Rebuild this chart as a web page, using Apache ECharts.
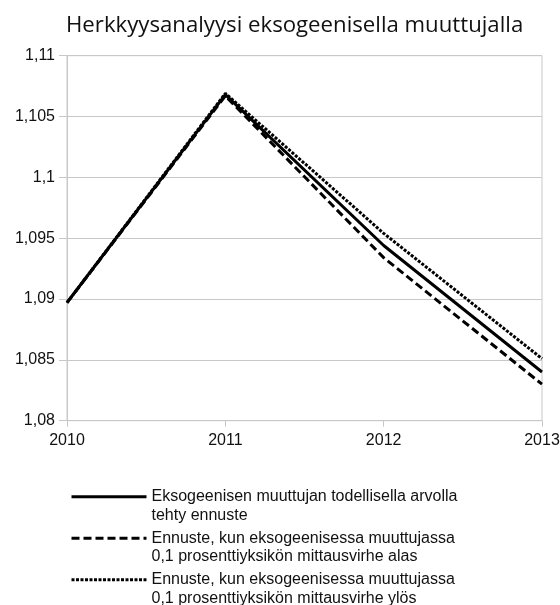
<!DOCTYPE html>
<html><head><meta charset="utf-8">
<script src="https://cdn.jsdelivr.net/npm/echarts@6/dist/echarts.min.js"></script>
<style>html,body{margin:0;padding:0;background:#fff}#c{width:560px;height:605px}</style>
</head><body><div id="c"></div>
<script>
var years = ['2010', '2011', '2012', '2013'];
var seriesNames = [
  'Eksogeenisen muuttujan todellisella arvolla\ntehty ennuste',
  'Ennuste, kun eksogeenisessa muuttujassa\n0,1 prosenttiyksikön mittausvirhe alas',
  'Ennuste, kun eksogeenisessa muuttujassa\n0,1 prosenttiyksikön mittausvirhe ylös'
];
var actual = [1.0897, 1.1068, 1.0944, 1.0840];
var errorDown = [1.0897, 1.1067, 1.0934, 1.0830];
var errorUp = [1.0897, 1.1069, 1.0954, 1.0851];
var titleText = 'Herkkyysanalyysi eksogeenisella muuttujalla';

var lineTypes = ['solid', [8, 4], [3, 1.5]];
var dataSets = [actual, errorDown, errorUp];
var legendTops = [469, 510.5, 552];

var chart = echarts.init(document.getElementById('c'));
var series = dataSets.map(function (d, i) {
  return {
    name: seriesNames[i], type: 'line', data: d, symbol: 'none',
    lineStyle: { color: '#000', width: 3, type: lineTypes[i] },
    itemStyle: { color: '#000' }
  };
});
var legends = seriesNames.map(function (n, i) {
  return {
    data: [n], left: 70, top: legendTops[i], padding: 0, orient: 'vertical',
    itemWidth: 75, itemHeight: 14, selectedMode: false,
    itemStyle: { color: 'transparent', borderWidth: 0, opacity: 0 },
    lineStyle: { width: 3, color: '#000', type: lineTypes[i] },
    formatter: function (name) { return '\n' + name; },
    textStyle: { fontFamily: 'Liberation Sans', fontSize: 16, color: '#111', lineHeight: 18.5 }
  };
});
chart.setOption({
  animation: false,
  backgroundColor: '#fff',
  title: { text: titleText, left: 61, top: 10,
    textStyle: { fontFamily: 'Open Sans', fontWeight: 'normal', fontSize: 22.2, color: '#111' } },
  legend: legends,
  grid: { left: 67, right: 18, top: 55.7, bottom: 184.3, show: true, borderColor: '#c8c8c8', borderWidth: 1,
    containLabel: false, outerBoundsMode: 'none' },
  xAxis: {
    type: 'category', data: years, boundaryGap: false,
    axisLine: { lineStyle: { color: '#c8c8c8', width: 1 } },
    axisTick: { show: true, length: 6, alignWithLabel: true, lineStyle: { color: '#c8c8c8' } },
    axisLabel: { fontFamily: 'Liberation Sans', fontSize: 16, color: '#111', margin: 12 },
    splitLine: { show: false }
  },
  yAxis: {
    type: 'value', min: 1.08, max: 1.11, interval: 0.005,
    axisLine: { show: true, lineStyle: { color: '#c8c8c8', width: 1 } },
    axisTick: { show: true, length: 8, lineStyle: { color: '#c8c8c8' } },
    axisLabel: { fontFamily: 'Liberation Sans', fontSize: 16, color: '#111', margin: 12,
      formatter: function (v) { return String(parseFloat(v.toFixed(3))).replace('.', ','); } },
    splitLine: { show: true, lineStyle: { color: '#c8c8c8', width: 1 } }
  },
  series: series
});
</script></body></html>
